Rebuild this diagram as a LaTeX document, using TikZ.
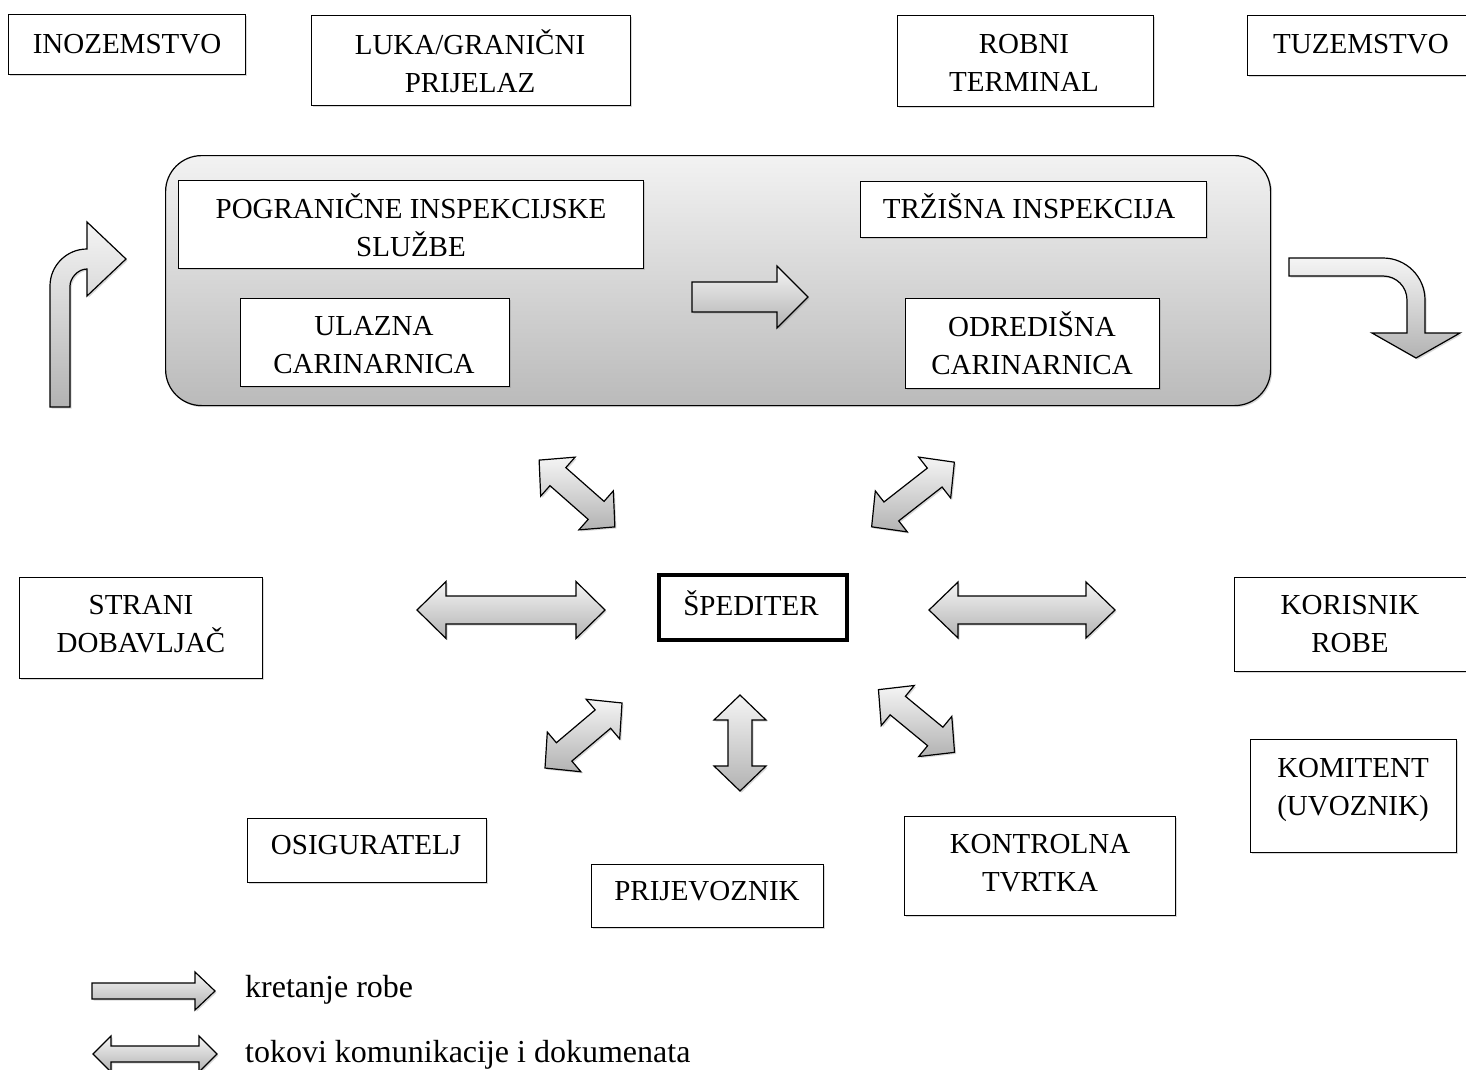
\documentclass[tikz,border=0pt]{standalone}
\usepackage{fontspec}
\setmainfont{Liberation Serif}
\usetikzlibrary{shadows}
\tikzset{
  shadowed/.style={drop shadow={opacity=0.3, shadow xshift=1.6pt, shadow yshift=-1.6pt}},
  box/.style={draw=black, line width=1.2pt, fill=white, rectangle, inner sep=0pt, anchor=north west, shadowed},
  lbl/.style={font=\fontsize{29}{38}\selectfont, align=center, inner sep=0pt},
  legtxt/.style={font=\fontsize{32}{38}\selectfont, anchor=base west, inner sep=0pt},
  barrow/.style={draw=black, line width=1.2pt, top color=black!4, bottom color=black!30, shadowed},
  pics/dbl/.style n args={4}{code={
    \path[barrow] ({-#1},0) -- ({-#1+#3},{#2}) -- ({-#1+#3},{#4}) -- ({#1-#3},{#4}) -- ({#1-#3},{#2}) -- ({#1},0)
      -- ({#1-#3},{-#2}) -- ({#1-#3},{-#4}) -- ({-#1+#3},{-#4}) -- ({-#1+#3},{-#2}) -- cycle;
  }},
  pics/sgl/.style n args={4}{code={
    \path[barrow] (0,{-#4}) -- ({#1-#3},{-#4}) -- ({#1-#3},{-#2}) -- ({#1},0) -- ({#1-#3},{#2}) -- ({#1-#3},{#4}) -- (0,{#4}) -- cycle;
  }}
}
\begin{document}
\begin{tikzpicture}[x=1pt,y=-1pt]
\useasboundingbox (0,0) rectangle (1466,1070);
\fill[white] (0,0) rectangle (1466,1070);

% top row
\node[box, minimum width=237pt, minimum height=60pt] (ino) at (8,14) {};
\node[lbl] (inoT) at (127,44) {INOZEMSTVO};
\node[box, minimum width=319pt, minimum height=90pt] (luka) at (311,15) {};
\node[lbl] (lukaT) at (470,61) {LUKA/GRANIČNI\\PRIJELAZ};
\node[box, minimum width=256pt, minimum height=91pt] (robni) at (897,15) {};
\node[lbl] (robniT) at (1024,63) {ROBNI\\TERMINAL};
\node[box, minimum width=240pt, minimum height=60pt] (tuz) at (1247,15) {};
\node[lbl] (tuzT) at (1361,44) {TUZEMSTVO};

% big rounded box
\node[draw=black, line width=1.2pt, rounded corners=36pt, top color=black!5, bottom color=black!27,
      anchor=north west, minimum width=1105pt, minimum height=250pt, inner sep=0pt, shadowed] (big) at (165,155) {};
\node[box, minimum width=465pt, minimum height=88pt] (pog) at (178,180) {};
\node[lbl] (pogT) at (411,225) {POGRANIČNE INSPEKCIJSKE\\SLUŽBE};
\node[box, minimum width=346pt, minimum height=56pt] (trz) at (860,181) {};
\node[lbl] (trzT) at (1029,206) {TRŽIŠNA INSPEKCIJA};
\node[box, minimum width=269pt, minimum height=88pt] (ula) at (240,298) {};
\node[lbl] (ulaT) at (374,345) {ULAZNA\\CARINARNICA};
\node[box, minimum width=254pt, minimum height=90pt] (odr) at (905,298) {};
\node[lbl] (odrT) at (1032,343) {ODREDIŠNA\\CARINARNICA};
\pic (mv) at (692,297) {sgl={116}{31}{31}{15}};

% bent arrows
\path[barrow] (50,407) -- (50,286) .. controls (50,265.6) and (66.6,249) .. (87,249) -- (87,222) -- (126,259)
  -- (87,296) -- (87,269) .. controls (77.6,269) and (70,278.4) .. (70,286) -- (70,407) -- cycle;
\path[barrow] (1289,258) -- (1383,258) .. controls (1406.2,258) and (1425,276.8) .. (1425,300) -- (1425,333)
  -- (1460,333) -- (1416,358) -- (1372,333) -- (1407,333) -- (1407,300) .. controls (1407,286.7) and (1396.3,276) .. (1383,276)
  -- (1289,276) -- cycle;

% centre
\node[box, line width=3.5pt, minimum width=188pt, minimum height=65pt] (sped) at (657,573) {};
\node[lbl] (spedT) at (751,603) {ŠPEDITER};

\node[box, minimum width=243pt, minimum height=101pt] (str) at (19,577) {};
\node[lbl] (strT) at (141,624) {STRANI\\DOBAVLJAČ};
\node[box, minimum width=240pt, minimum height=94pt] (kor) at (1234,577) {};
\node[lbl] (korT) at (1350,624) {KORISNIK\\ROBE};
\node[box, minimum width=206pt, minimum height=113pt] (kom) at (1250,739) {};
\node[lbl] (komT) at (1353,790) {KOMITENT\\(UVOZNIK)};
\node[box, minimum width=271pt, minimum height=99pt] (kon) at (904,816) {};
\node[lbl] (konT) at (1040,863) {KONTROLNA\\TVRTKA};
\node[box, minimum width=239pt, minimum height=64pt] (osi) at (247,818) {};
\node[lbl] (osiT) at (366,845) {OSIGURATELJ};
\node[box, minimum width=232pt, minimum height=63pt] (pri) at (591,864) {};
\node[lbl] (priT) at (707,891) {PRIJEVOZNIK};

% communication arrows
\pic (dL) at (511,610) {dbl={94}{28.5}{29}{14}};
\pic (dR) at (1022,610) {dbl={93}{28}{29}{14}};
\pic[rotate=-41.4] (dUL) at (577,493.5) {dbl={50.5}{26}{25}{12}};
\pic[rotate=38] (dUR) at (913,494.5) {dbl={52.5}{26}{25}{12}};
\pic[rotate=40.2] (dLL) at (583.5,735.5) {dbl={50.4}{26}{25}{12}};
\pic[rotate=90] (dV) at (740,743) {dbl={48}{26}{25}{12}};
\pic[rotate=-39.5] (dLR) at (916.5,721) {dbl={49.3}{26}{25}{12}};

% legend
\pic (lg1) at (92,991) {sgl={123}{19}{20}{8}};
\node[legtxt] (lg1T) at (245,997) {kretanje robe};
\pic (lg2) at (155,1054) {dbl={62}{18}{18}{8}};
\node[legtxt] (lg2T) at (245,1062) {tokovi komunikacije i dokumenata};
\end{tikzpicture}
\end{document}
